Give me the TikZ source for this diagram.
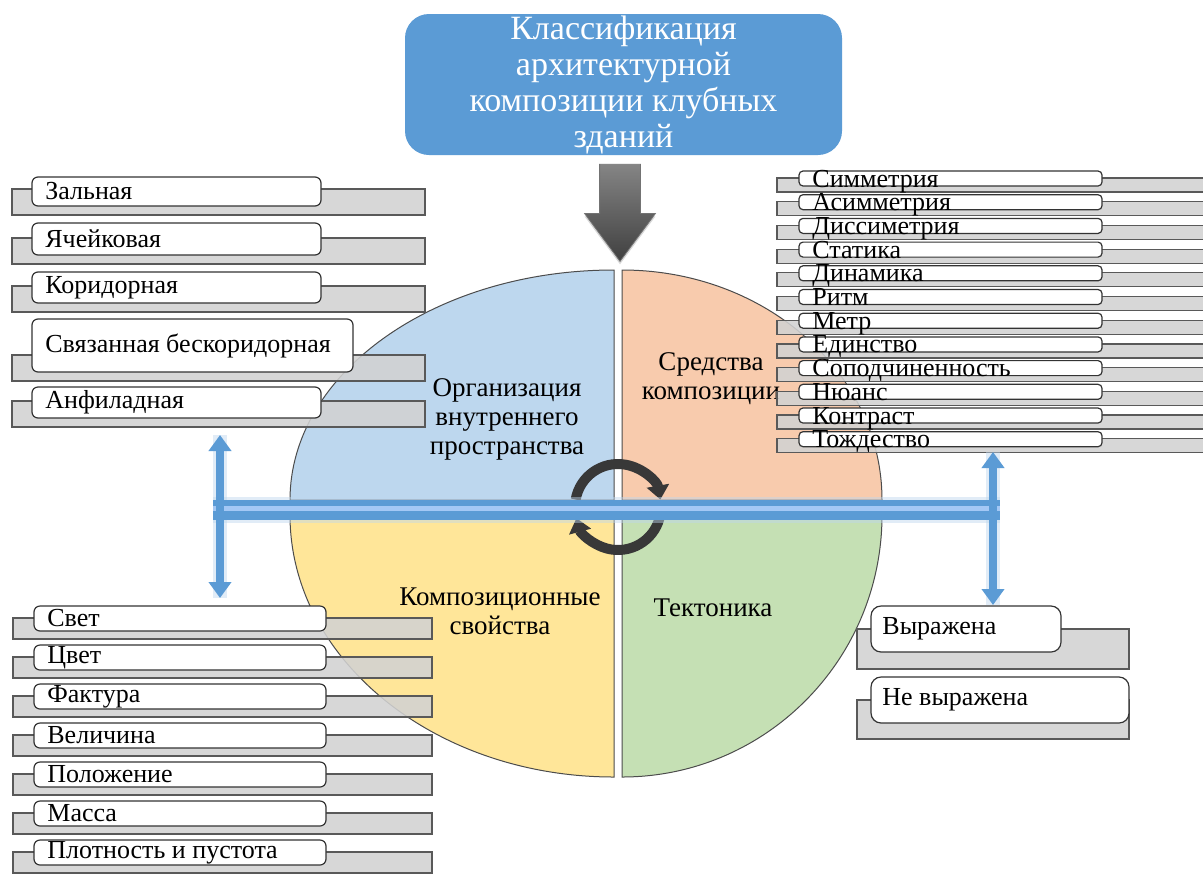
\documentclass[tikz,border=0pt]{standalone}
\usepackage{fontspec}
\setmainfont{Liberation Serif}
\usepackage{tikz}
\usetikzlibrary{calc,shapes.arrows,arrows.meta,shadows}

\definecolor{titleblue}{HTML}{5B9BD5}
\definecolor{qblue}{HTML}{BDD7EE}
\definecolor{qpeach}{HTML}{F8CBAD}
\definecolor{qyellow}{HTML}{FFE699}
\definecolor{qgreen}{HTML}{C5E0B4}
\definecolor{barblue}{HTML}{5B9BD5}
\definecolor{barlight}{HTML}{A4C8F5}
\definecolor{tabgray}{HTML}{D2D2D2}

\begin{document}
\begin{tikzpicture}[x=0.5pt,y=-0.5pt,
  tab/.style={draw=black!65,fill=tabgray,fill opacity=0.88,line width=0.6pt},
  box/.style={draw=black!80,fill=white,rounded corners=3pt,line width=0.6pt},
  lbl/.style={anchor=west,inner sep=0pt,font=\fontsize{13}{15}\selectfont},
  slbl/.style={anchor=base west,inner sep=0pt,font=\fontsize{13}{15}\selectfont},
  quarter/.style={draw=black!70,line width=0.5pt},
  qlbl/.style={align=center,inner sep=0pt,font=\fontsize{13.5}{14.5}\selectfont},
  glow/.style={draw=barblue!40,line width=#1,opacity=0.45},
  ring/.style={draw=black!78,line width=5pt},
  bluetip/.style={{Triangle[width=11pt,length=8pt]}-{Triangle[width=11pt,length=8pt]}}]
\clip (0,0) rectangle (1203,873);
\fill[white] (0,0) rectangle (1203,873);

% title and arrow
\node (title) [fill=titleblue,rounded corners=12pt,minimum width=218.5pt,minimum height=70.5pt,
  inner sep=0pt,text=white,align=center,font=\fontsize{17}{18}\selectfont]
  at (623.5,84.5) {Классификация\\архитектурной\\композиции клубных\\зданий};
\coordinate (pietop) at (620,270);
\node (down) [single arrow,rotate=-90,anchor=tip,xshift=-4pt,draw=black!55,
  top color=black!48,bottom color=black!75,
  minimum height=48.5pt,inner xsep=0pt,inner ysep=10pt,
  single arrow head extend=7.5pt,single arrow tip angle=73,
  drop shadow={opacity=0.3,shadow xshift=0pt,shadow yshift=-1.5pt}]
  at (pietop) {};

% disc
\path[quarter,fill=qblue] (614,500) -- (290,500) arc[start angle=180,end angle=270,x radius=324,y radius=230] -- cycle;
\path[quarter,fill=qpeach] (622,500) -- (622,270) arc[start angle=270,end angle=360,x radius=260,y radius=230] -- cycle;
\path[quarter,fill=qgreen] (622,515) -- (882,515) arc[start angle=0,end angle=90,x radius=260,y radius=262] -- cycle;
\path[quarter,fill=qyellow] (614,515) -- (614,777) arc[start angle=90,end angle=180,x radius=324,y radius=262] -- cycle;

\node[qlbl] (org) at (507,419) {Организация\\внутреннего\\пространства};
\node[qlbl] (means) at (711,379) {Средства\\композиции};
\node[qlbl] (props) at (500,611) {Композиционные\\свойства};
\node[qlbl] (tect) at (713,608) {Тектоника};

% circular arrows
\coordinate (hub) at (618,507);
\draw[ring,-{Triangle[width=11pt,length=7pt]}] ([shift={(190:43)}]hub) arc[start angle=190,end angle=350,radius=43];
\draw[ring,-{Triangle[width=11pt,length=7pt]}] ([shift={(15:43)}]hub) arc[start angle=15,end angle=165,radius=43];

% left top group
\foreach \txt/\ya/\yb/\xb [count=\i] in {Зальная/177/206/321,Ячейковая/223/255/321,
  Коридорная/272/303/321,Связанная бескоридорная/319/372/353,Анфиладная/387/418/321}{
  \draw[tab] (12,\yb-17) rectangle (425,\yb+9);
  \draw[box] (32,\ya) rectangle (\xb,\yb);
  \node[lbl] (plan\i) at (45,{(\ya+\yb)/2}) {\txt};
}

% left bottom group
\foreach \txt [count=\i from 0] in {Свет,Цвет,Фактура,Величина,Положение,Масса,Плотность и пустота}{
  \pgfmathsetmacro\ya{606+39*\i}
  \pgfmathsetmacro\yb{\ya+25}
  \draw[tab] (13,\yb-13) rectangle (432,\yb+8);
  \draw[box] (34,\ya) rectangle (326,\yb);
  \node[lbl] (prop\i) at (47,{(\ya+\yb)/2}) {\txt};
}

% right top group
\foreach \txt [count=\i from 0] in {Симметрия,Асимметрия,Диссиметрия,Статика,Динамика,Ритм,
  Метр,Единство,Соподчиненность,Нюанс,Контраст,Тождество}{
  \pgfmathsetmacro\ya{171+23.7*\i}
  \pgfmathsetmacro\yb{\ya+15}
  \draw[tab] (777,\yb-8) rectangle (1212,\yb+6);
  \draw[box,rounded corners=2pt] (799,\ya) rectangle (1102,\yb);
  \node[slbl] (mean\i) at (812,\yb+1) {\txt};
}

% right bottom group
\draw[tab] (857,629) rectangle (1129,669);
\draw[box,rounded corners=5pt] (871,606) rectangle (1061,652);
\node[lbl] (yes) at (882,629) {Выражена};
\draw[tab] (857,700) rectangle (1129,739);
\draw[box,rounded corners=5pt] (871,677) rectangle (1129,723);
\node[lbl] (no) at (882,700) {Не выражена};

% blue cross
\coordinate (hl) at (213,510);
\coordinate (hr) at (1000,510);
\coordinate (lt) at (220,435);
\coordinate (lb) at (220,598);
\coordinate (rt) at (993,452);
\coordinate (rb) at (993,605);
\draw[glow=13pt] (hl) -- (hr);
\draw[glow=7pt] (lt) -- (lb);
\draw[glow=7pt] (rt) -- (rb);
\draw[barblue,line width=10pt] (hl) -- (hr);
\draw[barlight,line width=2.5pt] ([yshift=1pt]hl) -- ([yshift=1pt]hr);
\draw[barblue,line width=4pt,bluetip] (lt) -- (lb);
\draw[barblue,line width=4pt,bluetip] (rt) -- (rb);
\end{tikzpicture}
\end{document}
